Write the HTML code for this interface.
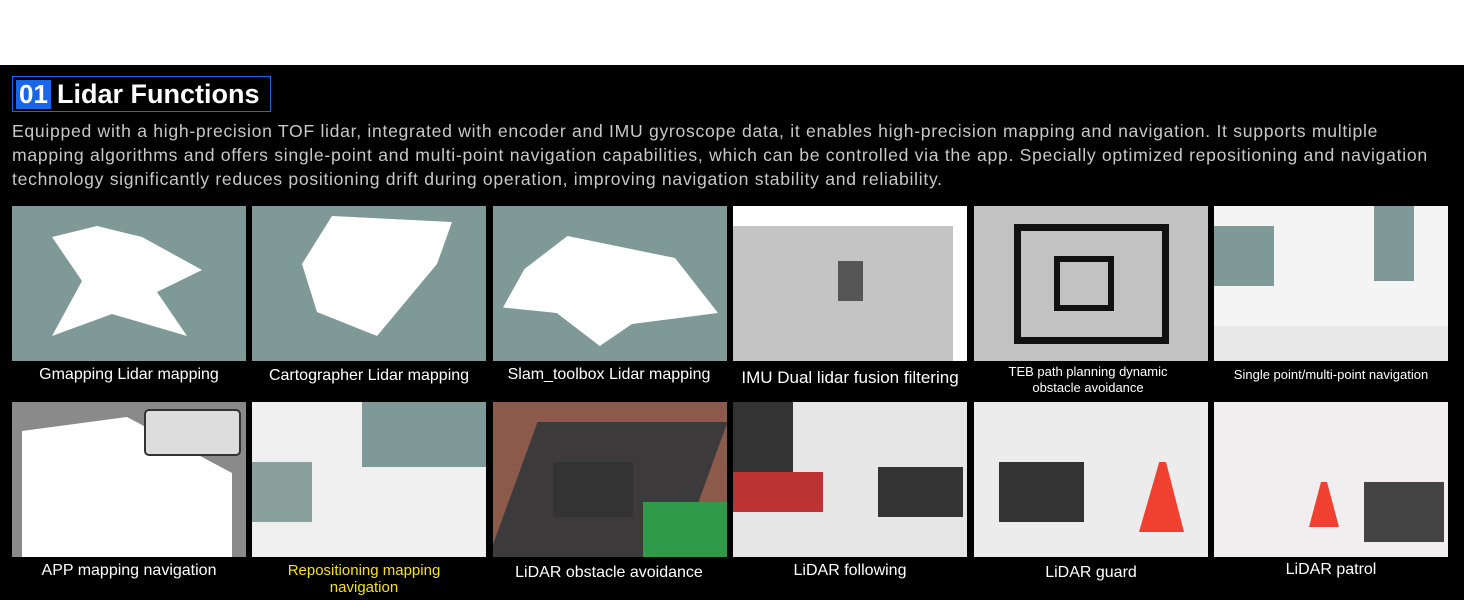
<!DOCTYPE html>
<html><head><meta charset="utf-8"><style>
*{margin:0;padding:0;box-sizing:border-box}
body{width:1464px;height:600px;background:#000;font-family:"Liberation Sans",sans-serif;position:relative;overflow:hidden}
.top{position:absolute;left:0;top:0;width:1464px;height:65px;background:#fff}
.title{position:absolute;left:12px;top:76px;width:259px;height:36px;border:1.5px solid #1a66e8}
.num{position:absolute;left:3px;top:3px;width:35px;height:29px;background:#1a66e8;color:#fff;font-weight:bold;font-size:26px;line-height:29px;text-align:center}
.tt{position:absolute;left:44px;top:1px;color:#fff;font-weight:bold;font-size:27px;line-height:32px;white-space:nowrap}
.p{position:absolute;left:12px;top:119px;width:1450px;color:#c8c8c8;font-size:17.6px;line-height:24px;letter-spacing:0.7px;white-space:nowrap}
.t{position:absolute;width:234px;height:155px;overflow:hidden}
.l{position:absolute;width:240px;text-align:center;color:#fff;font-size:16px;line-height:18px}
.s{font-size:13px;line-height:16px}
.w{position:absolute;background:#fff}
</style></head><body>
<div class="top"></div>
<div class="title"><div class="num">01</div><div class="tt">Lidar Functions</div></div>
<div class="p">Equipped with a high-precision TOF lidar, integrated with encoder and IMU gyroscope data, it enables high-precision mapping and navigation. It supports multiple<br>mapping algorithms and offers single-point and multi-point navigation capabilities, which can be controlled via the app. Specially optimized repositioning and navigation<br>technology significantly reduces positioning drift during operation, improving navigation stability and reliability.</div>

<div class="t" style="left:12px;top:206px;background:#7f9a96"><div class="w" style="left:40px;top:20px;width:150px;height:110px;clip-path:polygon(30% 0,60% 10%,100% 40%,70% 60%,90% 100%,40% 80%,0 100%,20% 50%,0 10%)"></div></div>
<div class="t" style="left:252px;top:206px;background:#7f9a96"><div class="w" style="left:50px;top:10px;width:150px;height:120px;clip-path:polygon(20% 0,100% 5%,90% 40%,70% 70%,50% 100%,10% 80%,0 40%)"></div></div>
<div class="t" style="left:493px;top:206px;background:#7f9a96"><div class="w" style="left:10px;top:30px;width:215px;height:110px;clip-path:polygon(30% 0,55% 10%,80% 20%,100% 70%,60% 80%,45% 100%,25% 70%,0 65%,10% 30%)"></div></div>
<div class="t" style="left:733px;top:206px;background:#c4c4c4"><div style="position:absolute;left:0;top:0;width:234px;height:20px;background:#fff"></div><div style="position:absolute;left:220px;top:0;width:14px;height:155px;background:#fff"></div><div style="position:absolute;left:105px;top:55px;width:25px;height:40px;background:#555"></div></div>
<div class="t" style="left:974px;top:206px;background:#c2c2c2"><div style="position:absolute;left:40px;top:18px;width:155px;height:120px;border:7px solid #111"></div><div style="position:absolute;left:80px;top:50px;width:60px;height:55px;border:6px solid #111"></div></div>
<div class="t" style="left:1214px;top:206px;background:#f4f4f4"><div style="position:absolute;left:0;top:20px;width:60px;height:60px;background:#7f9a96"></div><div style="position:absolute;left:160px;top:0;width:40px;height:75px;background:#7f9a96"></div><div style="position:absolute;left:0;top:120px;width:234px;height:35px;background:#e8e8e8"></div></div>

<div class="t" style="left:12px;top:402px;background:#8a8a8a"><div class="w" style="left:10px;top:15px;width:210px;height:140px;clip-path:polygon(0 10%,50% 0,100% 40%,100% 100%,0 100%)"></div><div style="position:absolute;left:132px;top:7px;width:97px;height:47px;background:#ddd;border:2px solid #333;border-radius:5px"></div></div>
<div class="t" style="left:252px;top:402px;background:#f0f0f0"><div style="position:absolute;left:110px;top:0;width:124px;height:65px;background:#7f9a96"></div><div style="position:absolute;left:0;top:60px;width:60px;height:60px;background:#8aa09c"></div></div>
<div class="t" style="left:493px;top:402px;background:#8c5a4a"><div style="position:absolute;left:20px;top:20px;width:190px;height:135px;background:#3c3a3a;transform:skewX(-20deg)"></div><div style="position:absolute;left:150px;top:100px;width:90px;height:55px;background:#2e9a4a"></div><div style="position:absolute;left:60px;top:60px;width:80px;height:55px;background:#333"></div></div>
<div class="t" style="left:733px;top:402px;background:#e6e6e6"><div style="position:absolute;left:0;top:0;width:60px;height:70px;background:#333"></div><div style="position:absolute;left:0;top:70px;width:90px;height:40px;background:#b33"></div><div style="position:absolute;left:145px;top:65px;width:85px;height:50px;background:#333"></div></div>
<div class="t" style="left:974px;top:402px;background:#ececec"><div style="position:absolute;left:25px;top:60px;width:85px;height:60px;background:#333"></div><div style="position:absolute;left:165px;top:60px;width:45px;height:70px;background:#f04030;clip-path:polygon(45% 0,60% 0,100% 100%,0 100%)"></div></div>
<div class="t" style="left:1214px;top:402px;background:#f0eeee"><div style="position:absolute;left:150px;top:80px;width:80px;height:60px;background:#444"></div><div style="position:absolute;left:95px;top:80px;width:30px;height:45px;background:#f04030;clip-path:polygon(40% 0,60% 0,100% 100%,0 100%)"></div></div>

<div class="l" style="left:9px;top:366px">Gmapping Lidar mapping</div>
<div class="l" style="left:249px;top:367px">Cartographer Lidar mapping</div>
<div class="l" style="left:489px;top:366px">Slam_toolbox Lidar mapping</div>
<div class="l" style="left:730px;top:369px;font-size:17px">IMU Dual lidar fusion filtering</div>
<div class="l s" style="left:968px;top:364px">TEB path planning dynamic<br>obstacle avoidance</div>
<div class="l s" style="left:1211px;top:367px">Single point/multi-point navigation</div>
<div class="l" style="left:9px;top:562px">APP mapping navigation</div>
<div class="l" style="left:244px;top:562px;color:#f5e020;font-size:15px;line-height:17px">Repositioning mapping<br>navigation</div>
<div class="l" style="left:489px;top:564px">LiDAR obstacle avoidance</div>
<div class="l" style="left:730px;top:562px">LiDAR following</div>
<div class="l" style="left:971px;top:564px">LiDAR guard</div>
<div class="l" style="left:1211px;top:561px">LiDAR patrol</div>
</body></html>
